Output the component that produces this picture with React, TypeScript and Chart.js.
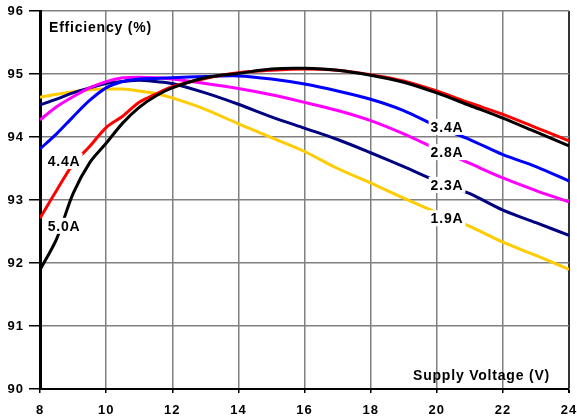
import { useEffect, useRef } from "react";
import { Chart, registerables } from "chart.js";

Chart.register(...registerables);

const voltages = [8, 8.5, 9, 9.5, 10, 10.5, 11, 11.5, 12, 13, 14, 15, 16, 17, 18, 19, 20, 21, 22, 23, 24];

const eff50 = [91.89, 92.38, 93.1, 93.59, 93.9, 94.22, 94.47, 94.65, 94.78, 94.94, 95.01, 95.08, 95.09, 95.06, 94.98, 94.87, 94.7, 94.5, 94.3, 94.08, 93.86];
const eff44 = [92.71, 93.15, 93.57, 93.85, 94.15, 94.33, 94.55, 94.68, 94.8, 94.93, 95.02, 95.06, 95.08, 95.06, 94.99, 94.89, 94.73, 94.54, 94.36, 94.15, 93.94];
const eff34 = [93.81, 94.05, 94.32, 94.58, 94.78, 94.88, 94.92, 94.93, 94.94, 94.96, 94.97, 94.92, 94.84, 94.73, 94.6, 94.42, 94.17, 93.96, 93.72, 93.53, 93.3];
const eff28 = [94.27, 94.48, 94.64, 94.78, 94.88, 94.94, 94.95, 94.94, 94.92, 94.85, 94.77, 94.67, 94.55, 94.42, 94.26, 94.05, 93.81, 93.58, 93.35, 93.15, 92.97];
const eff23 = [94.51, 94.6, 94.7, 94.78, 94.85, 94.88, 94.9, 94.88, 94.85, 94.7, 94.52, 94.32, 94.14, 93.96, 93.75, 93.53, 93.3, 93.1, 92.84, 92.64, 92.44];
const eff19 = [94.63, 94.68, 94.72, 94.75, 94.76, 94.76, 94.73, 94.69, 94.62, 94.44, 94.21, 93.99, 93.77, 93.5, 93.27, 93.03, 92.8, 92.58, 92.33, 92.12, 91.9];

const seriesNames = ["5.0A", "4.4A", "3.4A", "2.8A", "2.3A", "1.9A"];
const seriesColors = ["#000000", "#ff0000", "#0000ff", "#ff00ff", "#000080", "#ffcc00"];
const seriesValues = [eff50, eff44, eff34, eff28, eff23, eff19];

// label anchors (voltage, efficiency)
const labelV = [8.73, 8.73, 20.31, 20.31, 20.31, 20.31];
const labelE = [92.59, 93.62, 94.16, 93.76, 93.24, 92.71];

const yTitle = "Efficiency (%)";
const xTitle = "Supply Voltage (V)";

const FONT = "'Liberation Sans', Arial, sans-serif";

const overlayPlugin = {
  id: "overlay",
  beforeDraw(chart: any) {
    chart.ctx.letterSpacing = "1px";
  },
  afterDatasetsDraw(chart: any) {
    const { ctx, scales, chartArea } = chart;
    const x = scales.x;
    const y = scales.y;
    ctx.save();
    ctx.letterSpacing = "0.8px";
    ctx.font = `bold 14px ${FONT}`;
    ctx.textBaseline = "alphabetic";
    ctx.textAlign = "left";
    seriesNames.forEach((name, i) => {
      const px = x.getPixelForValue(labelV[i]);
      const py = y.getPixelForValue(labelE[i]);
      const w = ctx.measureText(name).width;
      ctx.fillStyle = "#ffffff";
      ctx.fillRect(px - w / 2 - 2, py - 8, w + 4, 16);
      ctx.fillStyle = "#000000";
      ctx.fillText(name, px - w / 2, py + 5);
    });
    ctx.fillText(yTitle, chartArea.left + 9, chartArea.top + 21);
    ctx.textAlign = "left";
    ctx.fillText(xTitle, chartArea.left + 373, chartArea.bottom - 9);
    ctx.restore();
  },
};

export default function App() {
  const ref = useRef<HTMLCanvasElement | null>(null);
  useEffect(() => {
    if (!ref.current) return;
    const chart = new Chart(ref.current, {
      type: "line",
      data: {
        datasets: seriesNames.map((name, i) => ({
          label: name,
          data: voltages.map((v, j) => ({ x: v, y: seriesValues[i][j] })),
          borderColor: seriesColors[i],
          backgroundColor: seriesColors[i],
          borderWidth: 3,
          pointRadius: 0,
          tension: 0.3,
          fill: false,
        })),
      },
      options: {
        animation: false,
        responsive: false,
        layout: { padding: { top: 11, right: 8, left: 0, bottom: 0 } },
        plugins: { legend: { display: false }, tooltip: { enabled: false } },
        scales: {
          x: {
            type: "linear",
            min: 8,
            max: 24,
            afterFit: (s: any) => {
              s.height = 29;
              s.paddingLeft = 0;
              s.paddingRight = 0;
            },
            ticks: {
              stepSize: 2,
              color: "#000",
              padding: 10,
              font: { family: FONT, size: 13, weight: "bold" },
            },
            grid: {
              color: (c: any) => (c.tick && c.tick.value === 24 ? "#333333" : "#808080"),
              lineWidth: (c: any) => (c.tick && c.tick.value === 24 ? 2 : 1.5),
              tickColor: "#000",
              tickLength: 4,
            },
            border: { color: "#000", width: 2 },
          },
          y: {
            min: 90,
            max: 96,
            afterFit: (s: any) => {
              s.width = 40;
              s.paddingTop = 0;
              s.paddingBottom = 0;
            },
            ticks: {
              stepSize: 1,
              color: "#000",
              padding: 5,
              font: { family: FONT, size: 13, weight: "bold" },
            },
            grid: {
              color: "#808080",
              lineWidth: 1.5,
              tickColor: "#000",
              tickLength: 11,
            },
            border: { color: "#000", width: 3 },
          },
        },
      },
      plugins: [overlayPlugin],
    });
    return () => chart.destroy();
  }, []);
  return (
    <div style={{ position: "fixed", left: 0, top: 0, width: 577, height: 418, background: "#fff" }}>
      <canvas ref={ref} width={577} height={418} />
    </div>
  );
}
